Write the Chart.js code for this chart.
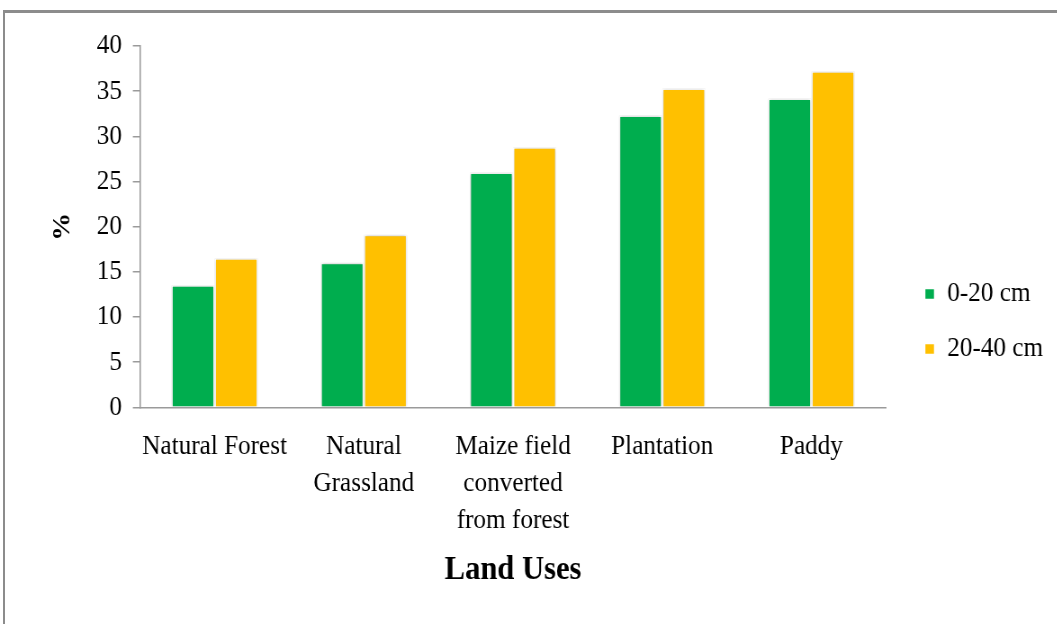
<!DOCTYPE html>
<html>
<head>
<meta charset="utf-8">
<script src="https://cdn.jsdelivr.net/npm/chart.js@4.4.1/dist/chart.umd.min.js"></script>
<style>
  html, body { margin: 0; padding: 0; background: #fff; overflow: hidden; }
  body { width: 1057px; height: 624px; position: relative; }
  /* grey frame of the original figure, cut off at right and bottom */
  #frame {
    position: absolute; left: 3px; top: 10px; width: 1200px; height: 800px;
    border-top: 3px solid #8c8c8c; border-left: 2px solid #8c8c8c;
  }
  /* the source text is slightly condensed, so draw wider and squeeze */
  #wrap {
    position: absolute; left: 0; top: 0; width: 1174px; height: 624px;
    transform: scaleX(0.9); transform-origin: 0 0;
  }
</style>
</head>
<body>
<div id="frame"></div>
<div id="wrap"><canvas id="chart" width="1174" height="624"></canvas></div>
<script>
// Chart data
const categories = [
  ['Natural Forest'],
  ['Natural', 'Grassland'],
  ['Maize field', 'converted', 'from forest'],
  ['Plantation'],
  ['Paddy']
];
const depth0to20 = [13.5, 16.0, 26.0, 32.3, 34.2];
const depth20to40 = [16.5, 19.1, 28.8, 35.3, 37.2];
const seriesNames = ['0-20 cm', '20-40 cm'];
const yTicks = [0, 5, 10, 15, 20, 25, 30, 35, 40];

const serif = "'Liberation Serif', 'Times New Roman', serif";
Chart.defaults.font.family = serif;
Chart.defaults.color = '#000';

// soft shadow round the bars, like the office chart
const barShadow = {
  id: 'barShadow',
  beforeDatasetsDraw(chart) {
    const ctx = chart.ctx;
    ctx.save();
    ctx.shadowColor = 'rgba(0, 0, 0, 0.28)';
    ctx.shadowBlur = 3;
  },
  afterDatasetsDraw(chart) {
    chart.ctx.restore();
  }
};

// push the legend a bit to the right of the plot
const legendShift = {
  id: 'legendShift',
  afterLayout(chart) {
    chart.legend.left += 16;
    chart.legend.right += 16;
  }
};

new Chart(document.getElementById('chart'), {
  type: 'bar',
  data: {
    labels: categories,
    datasets: [
      {
        label: seriesNames[0],
        data: depth0to20,
        backgroundColor: '#00AD4E',
        borderColor: '#ffffff',
        borderWidth: 1.5
      },
      {
        label: seriesNames[1],
        data: depth20to40,
        backgroundColor: '#FFC000',
        borderColor: '#ffffff',
        borderWidth: 1.5
      }
    ]
  },
  options: {
    responsive: false,
    animation: false,
    devicePixelRatio: 1,
    layout: {
      padding: { top: 46, left: 49, right: 21, bottom: 27 }
    },
    datasets: {
      bar: { categoryPercentage: 0.58, barPercentage: 1 }
    },
    scales: {
      x: {
        grid: { display: false, drawTicks: false },
        border: { color: '#9a9a9a', width: 1.5 },
        ticks: {
          font: { size: 28, lineHeight: 1.32 },
          padding: 21,
          maxRotation: 0,
          autoSkip: false
        },
        title: {
          display: true,
          text: 'Land Uses',
          font: { size: 34, weight: 'bold' },
          padding: { top: -10, bottom: 6 }
        }
      },
      y: {
        min: 0,
        max: 40,
        afterBuildTicks(scale) {
          scale.ticks = yTicks.map(v => ({ value: v }));
        },
        grid: { drawOnChartArea: false, drawTicks: true, tickLength: 8, color: '#9a9a9a', lineWidth: 1.5 },
        border: { color: '#9a9a9a', width: 1.5 },
        ticks: { font: { size: 28 }, padding: 12 },
        title: {
          display: true,
          text: '%',
          font: { size: 28, weight: 'bold' },
          padding: { top: 4, bottom: 9 }
        }
      }
    },
    plugins: {
      legend: {
        position: 'right',
        labels: {
          boxWidth: 11,
          boxHeight: 11,
          padding: 27,
          font: { size: 28 }
        }
      },
      tooltip: { enabled: false }
    }
  },
  plugins: [barShadow, legendShift]
});
</script>
</body>
</html>
